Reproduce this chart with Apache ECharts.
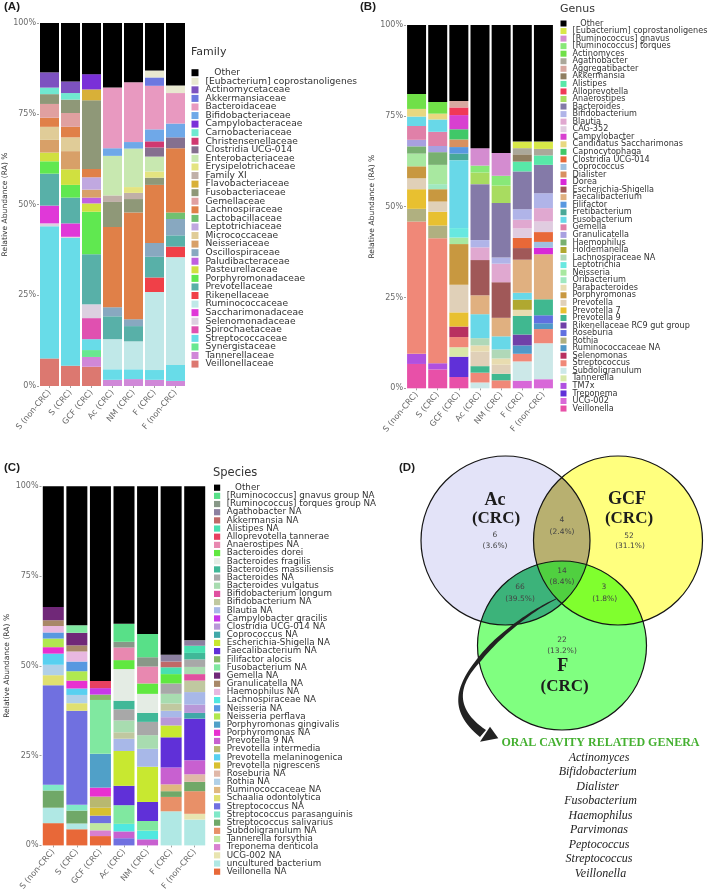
<!DOCTYPE html>
<html><head><meta charset="utf-8">
<style>html,body{margin:0;padding:0;background:#fff}#c{width:709px;height:893px}</style>
<script src="https://cdn.jsdelivr.net/npm/echarts@6/dist/echarts.min.js"></script>
</head><body><div id="c"></div>
<script>
const categories = ["S (non-CRC)","S (CRC)","GCF (CRC)","Ac (CRC)","NM (CRC)","F (CRC)","F (non-CRC)"];

// ---------- Panel A: Family ----------
const familyNames = ["Other","[Eubacterium] coprostanoligenes","Actinomycetaceae","Akkermansiaceae","Bacteroidaceae","Bifidobacteriaceae","Campylobacteraceae","Carnobacteriaceae","Christensenellaceae","Clostridia UCG-014","Enterobacteriaceae","Erysipelotrichaceae","Family XI","Flavobacteriaceae","Fusobacteriaceae","Gemellaceae","Lachnospiraceae","Lactobacillaceae","Leptotrichiaceae","Micrococcaceae","Neisseriaceae","Oscillospiraceae","Paludibacteraceae","Pasteurellaceae","Porphyromonadaceae","Prevotellaceae","Rikenellaceae","Ruminococcaceae","Saccharimonadaceae","Selenomonadaceae","Spirochaetaceae","Streptococcaceae","Synergistaceae","Tannerellaceae","Veillonellaceae"];
const familyColors = ["#000000","#E8E8D0","#7D52C0","#6C78E0","#E899C0","#6FA8E8","#7A30D8","#70E8D0","#D03870","#85708F","#C8E8B0","#E4E480","#C0B0A8","#D8B038","#8F9878","#E0A0A0","#E08048","#70C070","#C0A8E0","#E0CC98","#D8A068","#88A8C0","#C060E0","#D0E040","#60E850","#58B0A8","#F04048","#C0E8E8","#E038D8","#DCD0E0","#E050B0","#68DCE8","#68E890","#D088D8","#DC7870"];
const famSnon = {"Other":13.6,"Actinomycetaceae":4.2,"Carnobacteriaceae":1.8,"Fusobacteriaceae":2.7,"Gemellaceae":3.8,"Lachnospiraceae":2.5,"Micrococcaceae":3.6,"Neisseriaceae":3.5,"Pasteurellaceae":2.4,"Porphyromonadaceae":3.4,"Prevotellaceae":8.8,"Saccharimonadaceae":4.9,"Selenomonadaceae":0.8,"Streptococcaceae":36.4,"Veillonellaceae":7.6};
const famScrc = {"Other":16.1,"Actinomycetaceae":3.2,"Carnobacteriaceae":1.8,"Fusobacteriaceae":3.7,"Gemellaceae":3.8,"Lachnospiraceae":2.9,"Micrococcaceae":3.8,"Neisseriaceae":5.0,"Pasteurellaceae":4.3,"Porphyromonadaceae":3.5,"Prevotellaceae":7.1,"Saccharimonadaceae":3.7,"Selenomonadaceae":0.3,"Streptococcaceae":35.2,"Veillonellaceae":5.6};
const famGcf = {"Other":14.1,"Campylobacteraceae":4.2,"Flavobacteriaceae":3.0,"Fusobacteriaceae":18.9,"Lachnospiraceae":2.3,"Leptotrichiaceae":3.4,"Neisseriaceae":2.2,"Paludibacteraceae":1.6,"Pasteurellaceae":2.3,"Porphyromonadaceae":11.7,"Prevotellaceae":13.8,"Selenomonadaceae":3.8,"Spirochaetaceae":5.8,"Streptococcaceae":3.0,"Synergistaceae":1.9,"Tannerellaceae":2.7,"Veillonellaceae":5.3};
const famAc = {"Other":17.8,"Bacteroidaceae":16.7,"Bifidobacteriaceae":2.1,"Enterobacteriaceae":10.9,"Family XI":1.8,"Fusobacteriaceae":6.9,"Lachnospiraceae":22.1,"Oscillospiraceae":2.5,"Prevotellaceae":6.3,"Ruminococcaceae":8.3,"Streptococcaceae":2.9,"Tannerellaceae":1.7};
const famNm = {"Other":16.3,"Bacteroidaceae":16.5,"Bifidobacteriaceae":1.8,"Enterobacteriaceae":10.6,"Erysipelotrichaceae":1.6,"Family XI":1.7,"Fusobacteriaceae":3.7,"Lachnospiraceae":29.4,"Oscillospiraceae":1.9,"Prevotellaceae":4.2,"Ruminococcaceae":7.7,"Streptococcaceae":2.7,"Tannerellaceae":1.9};
const famFcrc = {"Other":13.1,"[Eubacterium] coprostanoligenes":1.9,"Akkermansiaceae":2.3,"Bacteroidaceae":12.0,"Bifidobacteriaceae":3.3,"Christensenellaceae":1.7,"Clostridia UCG-014":2.5,"Enterobacteriaceae":4.1,"Erysipelotrichaceae":1.7,"Fusobacteriaceae":2.0,"Lachnospiraceae":16.0,"Oscillospiraceae":3.8,"Prevotellaceae":5.7,"Rikenellaceae":4.0,"Ruminococcaceae":21.5,"Streptococcaceae":2.7,"Tannerellaceae":1.7};
const famFnon = {"Other":17.2,"[Eubacterium] coprostanoligenes":2.1,"Bacteroidaceae":8.4,"Bifidobacteriaceae":3.8,"Clostridia UCG-014":3.0,"Lachnospiraceae":17.7,"Lactobacillaceae":1.8,"Oscillospiraceae":4.5,"Prevotellaceae":3.1,"Rikenellaceae":2.9,"Ruminococcaceae":29.7,"Streptococcaceae":4.4,"Tannerellaceae":1.4};
const familyBars = [famSnon,famScrc,famGcf,famAc,famNm,famFcrc,famFnon];

// ---------- Panel B: Genus ----------
const genusNames = ["Other","[Eubacterium] coprostanoligenes","[Ruminococcus] gnavus","[Ruminococcus] torques","Actinomyces","Agathobacter","Aggregatibacter","Akkermansia","Alistipes","Alloprevotella","Anaerostipes","Bacteroides","Bifidobacterium","Blautia","CAG-352","Campylobacter","Candidatus Saccharimonas","Capnocytophaga","Clostridia UCG-014","Coprococcus","Dialister","Dorea","Escherichia-Shigella","Faecalibacterium","Filifactor","Fretibacterium","Fusobacterium","Gemella","Granulicatella","Haemophilus","Holdemanella","Lachnospiraceae NA","Leptotrichia","Neisseria","Oribacterium","Parabacteroides","Porphyromonas","Prevotella","Prevotella 7","Prevotella 9","Rikenellaceae RC9 gut group","Roseburia","Rothia","Ruminococcaceae NA","Selenomonas","Streptococcus","Subdoligranulum","Tannerella","TM7x","Treponema","UCG-002","Veillonella"];
const genusColors = ["#000000","#D8E848","#D48CD0","#88E878","#70E048","#ABA89A","#D8A8A0","#8F7E60","#58E8A8","#F03858","#A8DC60","#847AA8","#B0B4E8","#E0A8D0","#E0CCE0","#D840D0","#E8D880","#40C868","#E86838","#A0C0E0","#D89060","#D828D8","#A05858","#E0B080","#5898E0","#48A898","#68D8E8","#E080A8","#A8A0E0","#78B070","#B0A830","#B0D8B8","#68E8E0","#A8E8A0","#A0E8C0","#E8DCB0","#C89840","#E0D0B8","#E8C030","#40B890","#7040A8","#6070E0","#B0B080","#5098C8","#B83060","#F08878","#CCE8E8","#D8E8A8","#B050E0","#6030D8","#D868D8","#E850A8"];
const genSnon = {"Other":19.0,"Actinomyces":4.1,"Candidatus Saccharimonas":2.1,"Fusobacterium":2.6,"Gemella":3.8,"Granulicatella":1.8,"Haemophilus":2.0,"Neisseria":3.5,"Porphyromonas":3.3,"Prevotella":3.0,"Prevotella 7":5.4,"Rothia":3.5,"Streptococcus":36.4,"TM7x":2.8,"Veillonella":6.7};
const genScrc = {"Other":21.2,"Actinomyces":3.2,"Candidatus Saccharimonas":1.6,"Fusobacterium":3.4,"Gemella":3.9,"Granulicatella":1.7,"Haemophilus":3.5,"Neisseria":5.3,"Oribacterium":1.4,"Porphyromonas":3.4,"Prevotella":2.8,"Prevotella 7":3.8,"Rothia":3.5,"Streptococcus":34.4,"TM7x":1.7,"Veillonella":5.2};
const genGcf = {"Other":20.9,"Aggregatibacter":1.8,"Alloprevotella":2.1,"Campylobacter":3.9,"Capnocytophaga":2.8,"Dialister":2.1,"Filifactor":1.8,"Fretibacterium":1.8,"Fusobacterium":18.7,"Leptotrichia":2.6,"Neisseria":1.8,"Porphyromonas":11.2,"Prevotella":7.6,"Prevotella 7":3.9,"Selenomonas":2.9,"Streptococcus":2.8,"Tannerella":2.6,"Treponema":5.6,"Veillonella":3.1};
const genAc = {"Other":33.9,"[Ruminococcus] gnavus":4.8,"[Ruminococcus] torques":1.9,"Anaerostipes":3.2,"Bacteroides":15.4,"Bifidobacterium":2.0,"Blautia":3.5,"Escherichia-Shigella":9.7,"Faecalibacterium":5.2,"Fusobacterium":6.6,"Lachnospiraceae NA":2.0,"Parabacteroides":1.7,"Prevotella":4.0,"Prevotella 9":1.8,"Streptococcus":2.7,"Subdoligranulum":1.6};
const genNm = {"Other":35.2,"[Ruminococcus] gnavus":6.3,"[Ruminococcus] torques":2.7,"Anaerostipes":4.8,"Bacteroides":15.0,"Bifidobacterium":1.7,"Blautia":5.1,"Escherichia-Shigella":9.8,"Faecalibacterium":5.1,"Fusobacterium":3.6,"Lachnospiraceae NA":2.5,"Parabacteroides":1.7,"Prevotella":2.5,"Prevotella 9":1.8,"Streptococcus":2.2};
const genFcrc = {"Other":32.1,"[Eubacterium] coprostanoligenes":1.8,"Agathobacter":1.7,"Akkermansia":2.0,"Alistipes":2.7,"Bacteroides":10.4,"Bifidobacterium":2.9,"Blautia":2.4,"CAG-352":2.6,"Clostridia UCG-014":2.8,"Escherichia-Shigella":3.2,"Faecalibacterium":9.1,"Fusobacterium":1.9,"Holdemanella":2.8,"Parabacteroides":1.7,"Prevotella 9":5.1,"Rikenellaceae RC9 gut group":3.0,"Ruminococcaceae NA":2.3,"Streptococcus":2.1,"Subdoligranulum":5.3,"UCG-002":2.1};
const genFnon = {"Other":32.1,"[Eubacterium] coprostanoligenes":2.0,"Agathobacter":1.8,"Alistipes":2.6,"Bacteroides":7.8,"Bifidobacterium":4.1,"Blautia":3.7,"CAG-352":2.9,"Clostridia UCG-014":2.7,"Coprococcus":1.6,"Dorea":1.8,"Faecalibacterium":12.4,"Prevotella 9":4.4,"Roseburia":2.2,"Ruminococcaceae NA":1.6,"Streptococcus":3.9,"Subdoligranulum":9.9,"UCG-002":2.5};
const genusBars = [genSnon,genScrc,genGcf,genAc,genNm,genFcrc,genFnon];

// ---------- Panel C: Species ----------
const speciesNames = ["Other","[Ruminococcus] gnavus group NA","[Ruminococcus] torques group NA","Agathobacter NA","Akkermansia NA","Alistipes NA","Alloprevotella tannerae","Anaerostipes NA","Bacteroides dorei","Bacteroides fragilis","Bacteroides massiliensis","Bacteroides NA","Bacteroides vulgatus","Bifidobacterium longum","Bifidobacterium NA","Blautia NA","Campylobacter gracilis","Clostridia UCG-014 NA","Coprococcus NA","Escherichia-Shigella NA","Faecalibacterium NA","Filifactor alocis","Fusobacterium NA","Gemella NA","Granulicatella NA","Haemophilus NA","Lachnospiraceae NA","Neisseria NA","Neisseria perflava","Porphyromonas gingivalis","Porphyromonas NA","Prevotella 9 NA","Prevotella intermedia","Prevotella melaninogenica","Prevotella nigrescens","Roseburia NA","Rothia NA","Ruminococcaceae NA","Schaalia odontolytica","Streptococcus NA","Streptococcus parasanguinis","Streptococcus salivarius","Subdoligranulum NA","Tannerella forsythia","Treponema denticola","UCG-002 NA","uncultured bacterium","Veillonella NA"];
const speciesColors = ["#000000","#58E088","#889888","#8C80A0","#C06868","#48E0B0","#E84060","#E888B0","#60E840","#E4ECE4","#40B898","#A8A8A8","#A8DCB0","#E050A0","#C0C8A0","#A8B8E8","#C838E8","#B898D8","#40A8A8","#C8E830","#6030D8","#88B868","#80E8A0","#702878","#A88868","#E8B8E0","#50E8E0","#5898E0","#B0E850","#50A0C8","#E830D0","#C860D0","#B8B870","#58D0F0","#D8C030","#E0B8A8","#B0D0E8","#E0B880","#E0E070","#7070E0","#80E8C8","#70A868","#E89068","#C0E8A0","#D880D0","#E8E4B0","#B0E8E4","#E86838"];
const spSnon = {"Other":33.6,"Gemella NA":3.7,"Granulicatella NA":1.6,"Haemophilus NA":1.8,"Neisseria NA":1.7,"Neisseria perflava":2.4,"Porphyromonas NA":1.8,"Prevotella melaninogenica":3.1,"Rothia NA":2.9,"Schaalia odontolytica":2.8,"Streptococcus NA":27.7,"Streptococcus parasanguinis":1.6,"Streptococcus salivarius":4.8,"uncultured bacterium":4.3,"Veillonella NA":6.2};
const spScrc = {"Other":38.7,"Fusobacterium NA":2.1,"Gemella NA":3.5,"Granulicatella NA":1.7,"Haemophilus NA":2.8,"Neisseria NA":2.7,"Neisseria perflava":2.6,"Porphyromonas NA":2.2,"Prevotella melaninogenica":1.8,"Rothia NA":2.3,"Schaalia odontolytica":2.1,"Streptococcus NA":26.2,"Streptococcus parasanguinis":1.6,"Streptococcus salivarius":3.6,"uncultured bacterium":1.6,"Veillonella NA":4.5};
const spGcf = {"Other":54.2,"Alloprevotella tannerae":2.0,"Campylobacter gracilis":1.8,"Filifactor alocis":1.5,"Fusobacterium NA":15.0,"Porphyromonas gingivalis":9.4,"Porphyromonas NA":2.5,"Prevotella intermedia":3.1,"Prevotella nigrescens":2.2,"Streptococcus NA":2.1,"Tannerella forsythia":2.0,"Treponema denticola":1.6,"Veillonella NA":2.6};
const spAc = {"Other":38.3,"[Ruminococcus] gnavus group NA":5.0,"[Ruminococcus] torques group NA":1.6,"Anaerostipes NA":3.5,"Bacteroides dorei":2.5,"Bacteroides fragilis":8.8,"Bacteroides massiliensis":2.4,"Bacteroides NA":3.1,"Bacteroides vulgatus":3.3,"Bifidobacterium NA":1.8,"Blautia NA":3.4,"Escherichia-Shigella NA":9.7,"Faecalibacterium NA":5.4,"Fusobacterium NA":5.2,"Lachnospiraceae NA":2.1,"Prevotella 9 NA":1.9,"Streptococcus NA":2.0};
const spNm = {"Other":41.1,"[Ruminococcus] gnavus group NA":6.5,"[Ruminococcus] torques group NA":2.6,"Anaerostipes NA":4.7,"Bacteroides dorei":2.9,"Bacteroides fragilis":5.3,"Bacteroides massiliensis":2.5,"Bacteroides NA":3.7,"Bacteroides vulgatus":3.8,"Blautia NA":5.0,"Escherichia-Shigella NA":9.8,"Faecalibacterium NA":5.3,"Fusobacterium NA":2.7,"Lachnospiraceae NA":2.4,"Prevotella 9 NA":1.7};
const spFcrc = {"Other":46.9,"Agathobacter NA":1.9,"Akkermansia NA":1.6,"Alistipes NA":1.9,"Bacteroides dorei":2.6,"Bacteroides NA":2.9,"Bacteroides vulgatus":2.7,"Bifidobacterium NA":2.0,"Blautia NA":1.8,"Clostridia UCG-014 NA":2.3,"Escherichia-Shigella NA":3.3,"Faecalibacterium NA":8.4,"Prevotella 9 NA":4.7,"Ruminococcaceae NA":1.9,"Streptococcus salivarius":1.6,"Subdoligranulum NA":4.0,"uncultured bacterium":9.5};
const spFnon = {"Other":42.9,"Agathobacter NA":1.5,"Alistipes NA":2.0,"Bacteroides massiliensis":1.8,"Bacteroides NA":2.1,"Bacteroides vulgatus":2.0,"Bifidobacterium longum":1.8,"Bifidobacterium NA":3.2,"Blautia NA":3.5,"Clostridia UCG-014 NA":2.3,"Coprococcus NA":1.6,"Faecalibacterium NA":11.6,"Prevotella 9 NA":3.9,"Roseburia NA":2.1,"Streptococcus salivarius":2.6,"Subdoligranulum NA":6.3,"UCG-002 NA":1.6,"uncultured bacterium":7.2};
const speciesBars = [spSnon,spScrc,spGcf,spAc,spNm,spFcrc,spFnon];

const yTicks = {min:0,max:100,step:25};
const yTitle = "Relative Abundance (RA) %";

// ---------- Panel D: Venn ----------
const vennSets = [["Ac","(CRC)"],["GCF","(CRC)"],["F","(CRC)"]];
const vennCounts = ["6","4","52","14","66","3","22"];
const vennPercents = ["(3.6%)","(2.4%)","(31.1%)","(8.4%)","(39.5%)","(1.8%)","(13.2%)"];
const oralTitle = "ORAL CAVITY RELATED GENERA";
const oralGenera = ["Actinomyces","Bifidobacterium","Dialister","Fusobacterium","Haemophilus","Parvimonas","Peptococcus","Streptococcus","Veillonella"];

// ---------- layout ----------
const font = '"DejaVu Sans"';
const panels = [
 {names:familyNames,colors:familyColors,bars:familyBars,grid:{left:38,top:23,width:148,height:363},bw:19,nameGap:30,
  legend:{left:191.5,top:68.2,size:7,fs:9.15,gap:-0.43,pad:2}},
 {names:genusNames,colors:genusColors,bars:genusBars,grid:{left:406,top:25,width:148,height:363.3},bw:19,nameGap:30,
  legend:{left:560.5,top:19.5,size:6,fs:8.15,gap:-0.45,pad:1}},
 {names:speciesNames,colors:speciesColors,bars:speciesBars,grid:{left:41.5,top:486.3,width:165,height:363.7},bw:21,nameGap:30,
  legend:{left:214,top:483.2,size:6.2,fs:8.76,gap:-0.83,pad:1.5}}
];

const series=[], legends=[], grids=[], xAxes=[], yAxes=[];
panels.forEach((p,i)=>{
  grids.push(p.grid);
  xAxes.push({type:'category',gridIndex:i,data:categories,
    axisLine:{show:false},axisTick:{show:true,length:2,lineStyle:{color:'#777',width:.7},alignWithLabel:true},
    axisLabel:{interval:0,rotate:50,margin:5,fontSize:8.2,fontFamily:font,color:'#6a6a6a'}});
  yAxes.push({type:'value',gridIndex:i,min:yTicks.min,max:yTicks.max,interval:yTicks.step,
    name:yTitle,nameLocation:'middle',nameGap:p.nameGap,nameTextStyle:{fontSize:7.6,fontFamily:font,color:'#333'},
    axisLine:{show:false},splitLine:{show:false},axisTick:{show:true,length:2,lineStyle:{color:'#777',width:.7}},
    axisLabel:{formatter:'{value}%',margin:3,fontSize:8,fontFamily:font,color:'#6a6a6a'}});
  // lowest legend entry sits at the bottom of the stack
  for(let k=p.names.length-1;k>=0;k--){
    series.push({type:'bar',name:p.names[k],xAxisIndex:i,yAxisIndex:i,stack:'p'+i,barWidth:p.bw,
      silent:true,itemStyle:{color:p.colors[k]},
      data:p.bars.map(b=>b[p.names[k]]||0)});
  }
  legends.push({orient:'vertical',left:p.legend.left,top:p.legend.top,padding:0,
    itemWidth:p.legend.size,itemHeight:p.legend.size,itemGap:p.legend.gap,selectedMode:false,icon:'rect',
    formatter:n=>n==='Other'?'   Other':n,
    textStyle:{fontSize:p.legend.fs,fontFamily:font,color:'#333',padding:[0,0,0,p.legend.pad]},
    data:p.names.map((n,k)=>({name:n,icon:'rect',itemStyle:{color:p.colors[k]}}))});
});

// Venn geometry (pixel layout only)
const C=[{x:505.5,y:540.5,r:84.5},{x:618,y:540.5,r:84.5},{x:562,y:645.5,r:84.5}];
const fills=['#E3E3F8','#FFFF7E','#80FF80'];
function meet(a,b){const dx=b.x-a.x,dy=b.y-a.y,d=Math.hypot(dx,dy),l=d/2,h=Math.sqrt(a.r*a.r-l*l),mx=a.x+dx/2,my=a.y+dy/2;
  return [[mx-h*dy/d,my+h*dx/d],[mx+h*dy/d,my-h*dx/d]];}
const inside=(p,c)=>Math.hypot(p[0]-c.x,p[1]-c.y)<c.r;
function arcPts(c,p,q){let a=Math.atan2(p[1]-c.y,p[0]-c.x),b=Math.atan2(q[1]-c.y,q[0]-c.x);if(b<a)b+=2*Math.PI;
  const o=[];for(let i=0;i<=48;i++){const t=a+(b-a)*i/48;o.push([c.x+c.r*Math.cos(t),c.y+c.r*Math.sin(t)]);}return o;}
function lens(a,b){const m=meet(a,b);
  for(const [p,q] of [[m[0],m[1]],[m[1],m[0]]]){
    const A=arcPts(a,p,q),B=arcPts(b,q,p);
    if(inside(A[24],b)&&inside(B[24],a))return A.concat(B);
  }
}
const vAG=meet(C[0],C[1]).find(p=>inside(p,C[2]));
const vAF=meet(C[0],C[2]).find(p=>inside(p,C[1]));
const vGF=meet(C[1],C[2]).find(p=>inside(p,C[0]));
const triple=arcPts(C[2],vGF,vAF).concat(arcPts(C[0],vAF,vAG),arcPts(C[1],vAG,vGF));
function cubic(p0,p1,p2,p3){const o=[];for(let i=0;i<=30;i++){const t=i/30,u=1-t;
  o.push([u*u*u*p0[0]+3*u*u*t*p1[0]+3*u*t*t*p2[0]+t*t*t*p3[0],u*u*u*p0[1]+3*u*u*t*p1[1]+3*u*t*t*p2[1]+t*t*t*p3[1]]);}return o;}
const shaft=[].concat(
  cubic([556,598.5],[530,610],[495,635],[477,659]),
  cubic([477,659],[454,688],[449,712],[480,737]),
  cubic([486,730],[455,709],[457,686],[481,661]),
  cubic([481,661],[499,638],[532,611],[556,599.5]));

const g=[];
C.forEach((c,i)=>g.push({type:'circle',shape:{cx:c.x,cy:c.y,r:c.r},style:{fill:fills[i]},silent:true}));
[[0,1,'#B8B070'],[0,2,'#3CB37A'],[1,2,'#80FF2E']].forEach(([a,b,col])=>g.push({type:'polygon',shape:{points:lens(C[a],C[b])},style:{fill:col},silent:true}));
g.push({type:'polygon',shape:{points:triple},style:{fill:'#50D040'},silent:true});
C.forEach(c=>g.push({type:'circle',shape:{cx:c.x,cy:c.y,r:c.r},style:{fill:'none',stroke:'#151515',lineWidth:1.2},silent:true}));
g.push({type:'polygon',shape:{points:shaft},style:{fill:'#222'},silent:true});
g.push({type:'polygon',shape:{points:[[480,741.7],[490,726.7],[498.3,738.3]]},style:{fill:'#222'},silent:true});

const txt=(s,x,y,fs,col,o={})=>g.push({type:'text',x,y,silent:true,style:Object.assign({text:s,fontSize:fs,fontFamily:font,fill:col,align:'center',verticalAlign:'middle'},o)});
const serifB={fontFamily:'"Liberation Serif"',fontWeight:'bold'};
const setPos=[[495,500,496,519],[627,499,629,519],[562.7,666.7,564.7,686.7]];
vennSets.forEach((s,i)=>{const q=setPos[i];
  txt(s[0],q[0],q[1],18,'#1c1c1c',serifB);txt(s[1],q[2],q[3],17,'#1c1c1c',serifB);});
const cntPos=[[495,535,495,546],[562,520,562,532],[629,536,630,546.5],[562,570.7,562,582],[520,587,520,599],[604,587,604.7,599],[562,640,562,651]];
vennCounts.forEach((n,i)=>{const q=cntPos[i];txt(n,q[0],q[1],7.5,'#444');txt(vennPercents[i],q[2],q[3],7.5,'#444');});
txt(oralTitle,600.5,742.7,12,'#44B030',serifB);
const genX=[599,597.7,597.7,600.5,600.5,599,599,599,600.5];
oralGenera.forEach((n,i)=>txt(n,genX[i],757.7+i*14.5,12,'#222',{fontFamily:'"Liberation Serif"',fontStyle:'italic'}));
[['(A)',4,7],['(B)',360,7],['(C)',4,468],['(D)',399,468]].forEach(([s,x,y])=>txt(s,x,y,11.5,'#1c1c1c',{align:'left',fontWeight:'bold',fontFamily:'"Liberation Sans"'}));
[['Family',191,52,11],['Genus',560,9,11],['Species',213,473,11.5]].forEach(([s,x,y,fs])=>txt(s,x,y,fs,'#333',{align:'left'}));

const chart=echarts.init(document.getElementById('c'),null,{renderer:'canvas'});
chart.setOption({animation:false,backgroundColor:'#fff',grid:grids,xAxis:xAxes,yAxis:yAxes,legend:legends,series,graphic:{elements:g},tooltip:{show:false}});
</script></body></html>
